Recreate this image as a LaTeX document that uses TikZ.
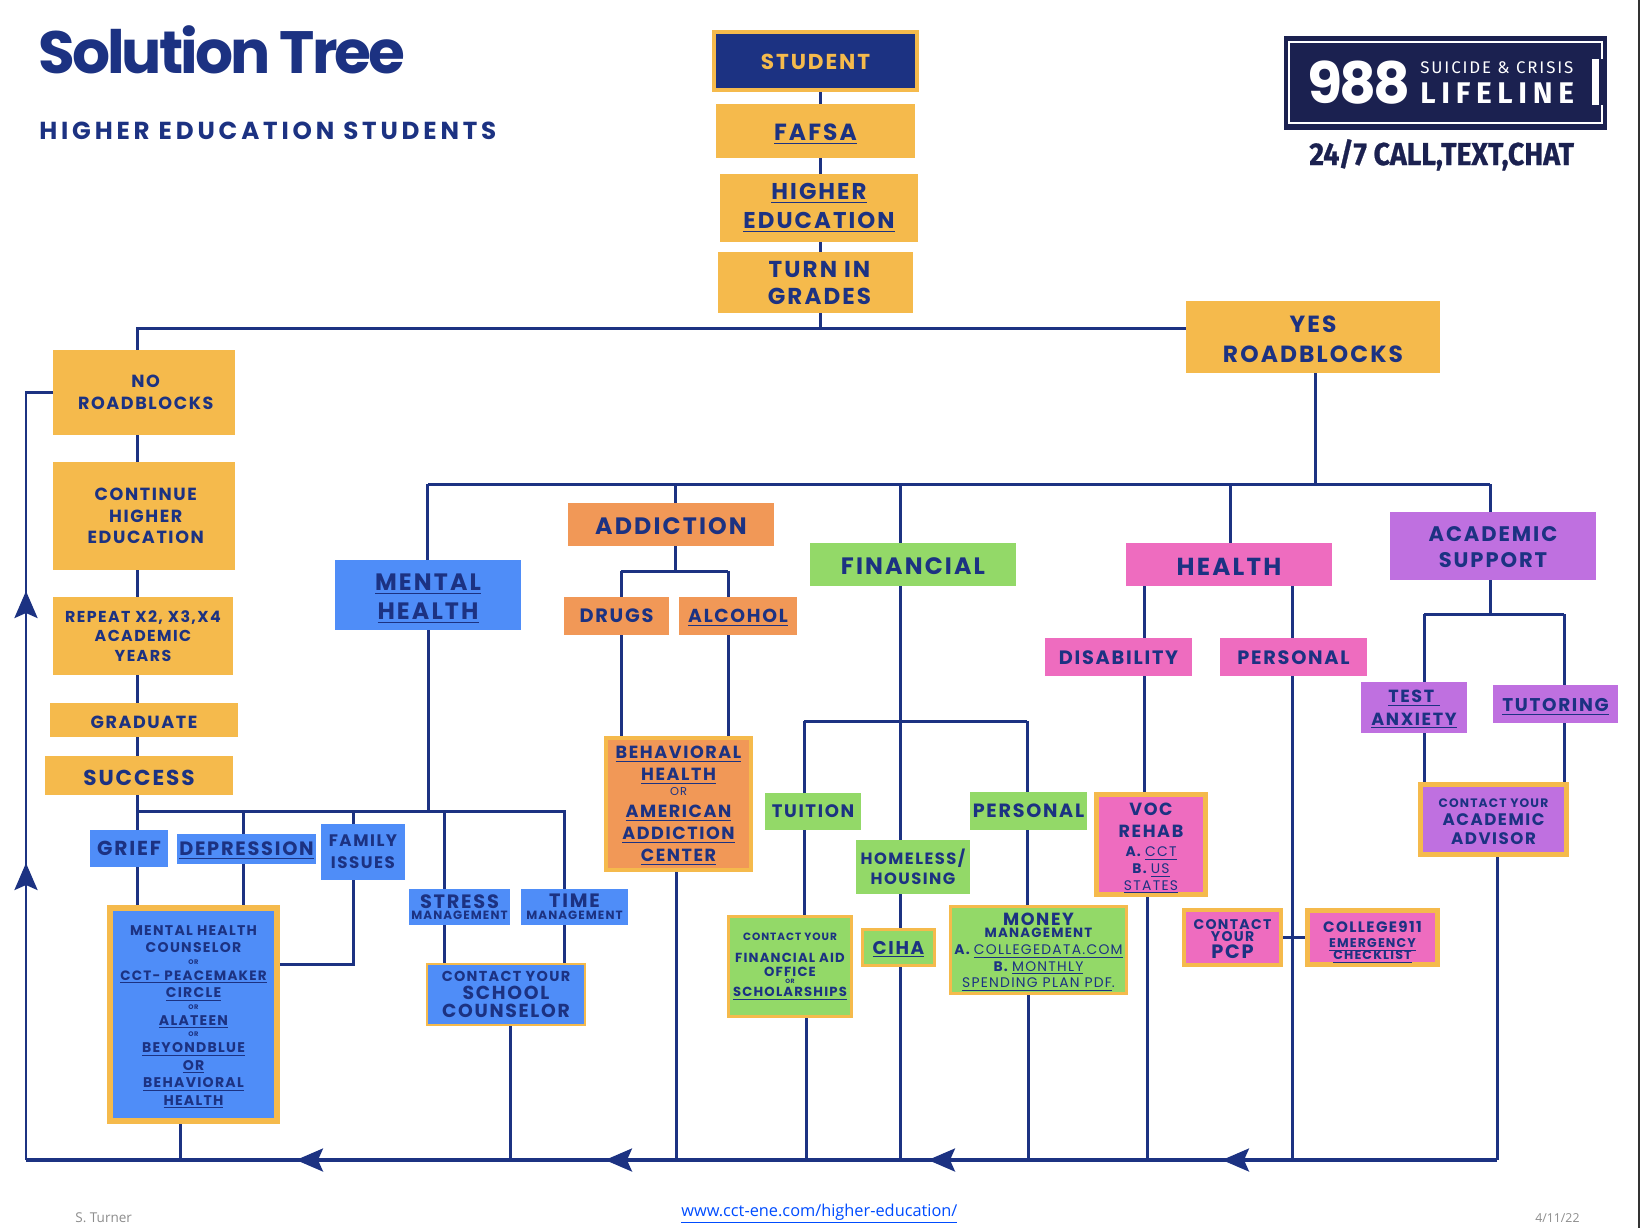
\documentclass[tikz,border=0pt]{standalone}
\usepackage{xcolor}
\usepackage{fontspec}
\setmainfont{Poppins}[LetterSpace=9]
\newfontfamily\titlefont{Poppins}[LetterSpace=-5]
\newfontfamily\widefont{Poppins}[LetterSpace=15.5]
\newfontfamily\logofont{Fira Sans}[LetterSpace=11]
\newfontfamily\logobold{Fira Sans}[LetterSpace=19]
\newfontfamily\tagfont{Fira Sans}[FakeStretch=0.9, BoldFeatures={FakeBold=0.8}]
\newfontfamily\footfont{Open Sans}
\usetikzlibrary{positioning,calc,arrows.meta}
\definecolor{navy}{HTML}{1C3282}
\definecolor{deepnavy}{HTML}{1B2150}
\definecolor{gold}{HTML}{F5BA4C}
\definecolor{bluefill}{HTML}{4F8DF8}
\definecolor{orangefill}{HTML}{F19857}
\definecolor{greenfill}{HTML}{93D968}
\definecolor{pinkfill}{HTML}{EE6CBF}
\definecolor{purplefill}{HTML}{BF70E0}
\newcommand{\fs}[2]{\fontsize{#1}{#2}\selectfont}
\newcommand{\ul}[1]{\underline{#1}}
\newcommand{\pad}[1]{\rule{0pt}{\dimexpr\fontcharht\font`H+#1pt\relax}}
\setlength{\lineskiplimit}{-20pt}
\tikzset{
  wh/.style 2 args  = {minimum width=#1*0.02cm, minimum height=#2*0.02cm},
  rim/.style        = {draw=gold, line width=#1*0.02cm},
  flat/.style       = {text depth=0pt},
  boxbase/.style    = {rectangle, inner sep=0pt, align=center, text=navy, font=\bfseries},
  goldbox/.style    = {boxbase, fill=gold},
  bluebox/.style    = {boxbase, fill=bluefill},
  orangebox/.style  = {boxbase, fill=orangefill},
  greenbox/.style   = {boxbase, fill=greenfill},
  pinkbox/.style    = {boxbase, fill=pinkfill},
  purplebox/.style  = {boxbase, fill=purplefill},
  link/.style       = {draw=navy, line width=0.06cm},
  trunk/.style      = {draw=navy, line width=0.085cm},
  flowtip/.style    = {-{Stealth[length=0.54cm, width=0.46cm, inset=0.1cm]}, draw=navy, line width=0.06cm},
  foot/.style       = {font=\footfont\fontsize{7}{8}\selectfont, text=black!45, anchor=base west, inner sep=0pt},
}
\begin{document}
\begin{tikzpicture}[x=0.02cm,y=-0.02cm]
  \useasboundingbox (0,0) rectangle (1640,1228);
  \fill[black!80] (1638,0) rectangle (1640,1228);

  % heading
  \node[anchor=base west, inner sep=0pt, text=navy, font=\titlefont\bfseries\fs{34}{40}] (title) at (38,73) {Solution Tree};
  \node[anchor=base west, inner sep=0pt, text=navy, font=\widefont\bfseries\fs{14}{16}] (subtitle) at (39,139) {HIGHER EDUCATION STUDENTS};

  % lifeline badge
  \fill[deepnavy] (1284,36) rectangle (1607,130);
  \draw[white, line width=0.04cm] (1602,59) -- (1602,42) -- (1289,42) -- (1289,123) -- (1602,123) -- (1602,105);
  \fill[white] (1592,59) rectangle (1599,105);
  \node[anchor=base west, inner sep=0pt, text=white, font=\titlefont\bfseries\fs{32.5}{36}] (nine) at (1307,103) {988};
  \node[anchor=base west, inner sep=0pt, text=white, font=\logofont\fs{9.6}{11}] (suicide) at (1420,73) {SUICIDE \& CRISIS};
  \node[anchor=base west, inner sep=0pt, text=white, font=\logobold\bfseries\fs{17}{19}] (lifeline) at (1420,103) {LIFELINE};
  \node[anchor=base west, inner sep=0pt, text=deepnavy, font=\tagfont\bfseries\fs{18}{20}] (tagline) at (1309,165) {24/7 CALL,TEXT,CHAT};

  % centre column
  \node[boxbase, fill=navy, rim=4, wh={203}{58}, text=gold, font=\bfseries\fs{12.3}{14}, flat] (student) at (815.5,61) {\pad{1.2}STUDENT};
  \node[goldbox, wh={199}{54}, font=\bfseries\fs{13.3}{16}, flat] (fafsa) at (815.5,131) {\pad{1.2}\ul{FAFSA}};
  \node[goldbox, wh={198}{68}, font=\bfseries\fs{13}{16.5}] (higher) at (819,208) {\ul{HIGHER}\\\ul{EDUCATION}};
  \node[goldbox, wh={195}{61}, font=\bfseries\fs{13.1}{15.5}, flat] (turnin) at (815.5,282.5) {\pad{0.6}\hspace*{4.5pt}TURN IN\\\hspace*{4.5pt}GRADES};
  \node[goldbox, wh={254}{72}, font=\bfseries\fs{13.3}{16.7}, flat] (yes) at (1313,337) {\pad{2.4}YES\\ROADBLOCKS};

  % left column
  \node[goldbox, wh={182}{85}, font=\bfseries\fs{10}{12.7}] (noroad) at (144,392.5) {\hspace*{2pt}NO\\\hspace*{2pt}ROADBLOCKS};
  \node[goldbox, wh={182}{108}, font=\bfseries\fs{10}{12.3}] (cont) at (144,516) {\hspace*{2pt}CONTINUE\\\hspace*{2pt}HIGHER\\\hspace*{2pt}EDUCATION};
  \node[goldbox, wh={180}{78}, font=\bfseries\fs{9}{11}] (repeatx) at (143,636) {REPEAT X2, X3,X4\\ACADEMIC\\YEARS};
  \node[goldbox, wh={188}{34}, font=\bfseries\fs{10}{12}, flat] (graduate) at (144,720) {\pad{2.4}GRADUATE};
  \node[goldbox, wh={188}{39}, font=\bfseries\fs{12.3}{14}, flat] (success) at (139,775.5) {\pad{2.4}SUCCESS};

  % mental health
  \node[bluebox, wh={186}{70}, font=\bfseries\fs{13.5}{16.5}, flat] (mental) at (428,595) {\pad{2.4}\ul{MENTAL}\\\ul{HEALTH}};
  \node[bluebox, wh={78}{37}, font=\bfseries\fs{11.5}{12}] (grief) at (129,848.5) {GRIEF};
  \node[bluebox, wh={139}{30}, font=\bfseries\fs{11}{12}, flat] (depression) at (246.5,849) {\ul{DEPRESSION}};
  \node[bluebox, wh={84}{56}, font=\bfseries\fs{9.5}{12.5}] (family) at (363,852) {FAMILY\\ISSUES};
  \node[bluebox, wh={101}{36}, font=\bfseries\fs{11}{6.6}] (stress) at (459.5,907) {STRESS\\\fs{6.8}{7}MANAGEMENT};
  \node[bluebox, wh={107}{36}, font=\bfseries\fs{11}{6.6}] (timex) at (574.5,907) {TIME\\\fs{6.8}{7}MANAGEMENT};
  \node[bluebox, rim=6, wh={167}{213}, font=\bfseries\fs{8}{10}] (mhc) at (193.5,1014.5) {\pad{3}MENTAL HEALTH\\COUNSELOR\\[-3.6pt]\fs{3.8}{6}OR\\[-0.8pt]\fs{7.7}{10}\ul{CCT- PEACEMAKER}\\\ul{CIRCLE}\\[-3.6pt]\fs{3.8}{6}OR\\[-0.8pt]\ul{ALATEEN}\\[-3.6pt]\fs{3.8}{6}OR\\[-0.8pt]\ul{BEYONDBLUE}\\\ul{OR}\\\ul{BEHAVIORAL}\\\ul{HEALTH}};
  \node[bluebox, rim=2, wh={158}{61}, font=\bfseries\fs{10.7}{10.2}] (school) at (506,994.5) {\fs{8.2}{10}CONTACT YOUR\\SCHOOL\\COUNSELOR};

  % addiction
  \node[orangebox, wh={206}{43}, font=\bfseries\fs{13.5}{17}, flat] (addiction) at (671,524.5) {\pad{2.4}ADDICTION};
  \node[orangebox, wh={105}{38}, font=\bfseries\fs{11}{12}, flat] (drugs) at (616.5,616) {DRUGS};
  \node[orangebox, wh={118}{38}, font=\bfseries\fs{10.7}{12}, flat] (alcohol) at (738,616) {\ul{ALCOHOL}};
  \node[orangebox, rim=4, wh={145}{132}, font=\bfseries\fs{10}{12.5}] (behavioral) at (678.5,804) {\pad{2}\ul{BEHAVIORAL}\\\ul{HEALTH}\\[-4pt]\fs{6.5}{12}\mdseries OR\\\ul{AMERICAN}\\\ul{ADDICTION}\\\ul{CENTER}};

  % financial
  \node[greenbox, wh={206}{43}, font=\bfseries\fs{13.5}{17}, flat] (financial) at (913,564.5) {\pad{2.4}FINANCIAL};
  \node[greenbox, wh={96}{37}, font=\bfseries\fs{10.3}{12}] (tuition) at (813,811.5) {TUITION};
  \node[greenbox, wh={117}{38}, font=\bfseries\fs{10.9}{12}] (personalf) at (1028.5,811) {PERSONAL};
  \node[greenbox, wh={114}{54}, font=\bfseries\fs{9.3}{11.5}] (homeless) at (913,867) {HOMELESS/\\HOUSING};
  \node[greenbox, rim=3, wh={123}{100}, font=\bfseries\fs{7.5}{8.5}] (finaid) at (790,966.5) {\fs{6}{8}CONTACT YOUR\\[4pt]FINANCIAL AID\\OFFICE\\[-4.6pt]\fs{3.5}{5}OR\\[-1.1pt]\ul{SCHOLARSHIPS}};
  \node[greenbox, rim=3, wh={72}{36}, font=\bfseries\fs{10.5}{12}, flat] (ciha) at (898.5,947.5) {\ul{CIHA}};
  \node[greenbox, rim=3, wh={176}{87}, font=\bfseries\fs{7.9}{9.5}] (money) at (1038.5,950) {\fs{10}{9}\pad{2.4}MONEY\\[-2.5pt]\fs{7.6}{9}MANAGEMENT\\A. {\mdseries\ul{COLLEGEDATA.COM}}\\B. {\mdseries\ul{MONTHLY}}\\{\mdseries\ul{SPENDING PLAN PDF}.}};

  % health
  \node[pinkbox, wh={206}{43}, font=\bfseries\fs{14}{17}, flat] (health) at (1229,564.5) {\pad{2.4}HEALTH};
  \node[pinkbox, wh={147}{38}, font=\bfseries\fs{11}{12}, flat] (disability) at (1118.5,657) {\pad{1.2}DISABILITY};
  \node[pinkbox, wh={147}{38}, font=\bfseries\fs{11}{12}, flat] (personalh) at (1293.5,657) {\pad{1.2}PERSONAL};
  \node[pinkbox, rim=5, wh={109}{100}, font=\bfseries\fs{7.9}{9.5}] (voc) at (1151,844.5) {\fs{10}{12}\pad{4.8}VOC\\[3pt]\fs{10}{12}REHAB\\[1.3pt]A. {\mdseries\ul{CCT}}\\B. {\mdseries\ul{US}}\\{\mdseries\ul{STATES}}};
  \node[pinkbox, rim=4, wh={97}{55}, font=\bfseries\fs{8}{7}, flat] (pcp) at (1232.5,937.5) {\pad{1.8}CONTACT\\YOUR\\[2.8pt]\fs{11}{10}PCP};
  \node[pinkbox, rim=5, wh={130}{54}, font=\bfseries\fs{7.2}{6.8}] (college) at (1372.5,937.5) {\fs{8.6}{11}\pad{6}COLLEGE911\\[1.7pt]\ul{EMERGENCY}\\\ul{CHECKLIST}};

  % academic support
  \node[purplebox, wh={206}{68}, font=\bfseries\fs{12}{15}, flat] (academic) at (1493,546) {\pad{1.2}ACADEMIC\\SUPPORT};
  \node[purplebox, wh={106}{51}, font=\bfseries\fs{10}{13}, flat] (anxiety) at (1414,707.5) {\ul{TEST }\\\ul{ANXIETY}};
  \node[purplebox, wh={125}{38}, font=\bfseries\fs{10.5}{12}, flat] (tutoring) at (1555.5,704) {\pad{1.2}\ul{TUTORING}};
  \node[purplebox, rim=5, wh={146}{70}, font=\bfseries\fs{9.5}{10.7}] (advisor) at (1493.5,819.5) {\fs{7}{9}\pad{2.4}CONTACT YOUR\\[-0.6pt]ACADEMIC\\ADVISOR};

  % junctions
  \coordinate (spine) at (820,328);
  \coordinate (leftrun) at (137,328);
  \coordinate (branch) at (137,811);
  \coordinate (bar) at (1315,484);
  \coordinate (trunkr) at (1497,1160);
  \coordinate (trunkl) at (26,1160);

  % top of the tree
  \foreach \a/\b in {student/fafsa, fafsa/higher, higher/turnin}
    \draw[link] (\a.south -| spine) -- (\b.north -| spine);
  \draw[link] (turnin.south -| spine) -- (spine);
  \draw[link] (yes.west |- spine) -- (leftrun) -- (noroad.north -| leftrun);
  \foreach \a/\b in {noroad/cont, cont/repeatx, repeatx/graduate, graduate/success, success/grief}
    \draw[link] (\a.south -| leftrun) -- (\b.north -| leftrun);
  \draw[link] (grief.south -| leftrun) -- (mhc.north -| leftrun);

  % mental health branch
  \coordinate (famturn) at (353,964);
  \coordinate (menrun) at (428,811);
  \coordinate (timerun) at (564,811);
  \coordinate (bar left) at (428,484);
  \draw[link] (branch) -- (timerun) -- (timex.north -| timerun);
  \draw[link] (mental.south -| menrun) -- (menrun);
  \draw[link] (timex.south -| timerun) -- (school.north -| timerun);
  \foreach \x in {243} {
    \draw[link] (\x,811) -- (depression.north -| {(\x,0)});
    \draw[link] (depression.south -| {(\x,0)}) -- (mhc.north -| {(\x,0)});
  }
  \draw[link] (353,811) -- (family.north -| famturn);
  \draw[link] (family.south -| famturn) -- (famturn) -- (mhc.east |- famturn);
  \draw[link] (444,811) -- (stress.north -| {(444,0)});
  \draw[link] (stress.south -| {(444,0)}) -- (school.north -| {(444,0)});

  % upper bar and its drops
  \draw[link] (yes.south -| bar) -- (bar);
  \draw[link] (bar left) -- (1490,484);
  \foreach \n/\x in {mental/427, addiction/675, financial/900, health/1230, academic/1490}
    \draw[link] (\x,484) -- (\n.north -| {(\x,0)});

  % addiction branch
  \draw[link] (addiction.south -| {(675,0)}) -- (675,571);
  \draw[link] (621,571) -- (728,571);
  \draw[link] (621,571) -- (drugs.north -| {(621,0)});
  \draw[link] (728,571) -- (alcohol.north -| {(728,0)});
  \draw[link] (drugs.south -| {(621,0)}) -- (behavioral.north -| {(621,0)});
  \draw[link] (alcohol.south -| {(728,0)}) -- (behavioral.north -| {(728,0)});

  % financial branch
  \draw[link] (financial.south -| {(900,0)}) -- (homeless.north -| {(900,0)});
  \draw[link] (homeless.south -| {(900,0)}) -- (ciha.north -| {(900,0)});
  \draw[link] (804,721) -- (1027,721);
  \draw[link] (804,721) -- (tuition.north -| {(804,0)});
  \draw[link] (tuition.south -| {(804,0)}) -- (finaid.north -| {(804,0)});
  \draw[link] (1027,721) -- (personalf.north -| {(1027,0)});
  \draw[link] (personalf.south -| {(1027,0)}) -- (money.north -| {(1027,0)});

  % health branch
  \draw[link] (health.south -| {(1144,0)}) -- (disability.north -| {(1144,0)});
  \draw[link] (disability.south -| {(1144,0)}) -- (voc.north -| {(1144,0)});
  \draw[link] (health.south -| {(1292,0)}) -- (personalh.north -| {(1292,0)});
  \draw[link] (pcp.east) -- (college.west);

  % academic branch
  \draw[link] (academic.south -| {(1490,0)}) -- (1490,614);
  \draw[link] (1424,614) -- (1564,614);
  \draw[link] (1424,614) -- (anxiety.north -| {(1424,0)});
  \draw[link] (1564,614) -- (tutoring.north -| {(1564,0)});
  \draw[link] (anxiety.south -| {(1424,0)}) -- (advisor.north -| {(1424,0)});
  \draw[link] (tutoring.south -| {(1564,0)}) -- (advisor.north -| {(1564,0)});

  % everything returns along the bottom
  \foreach \n/\x in {mhc/180, school/510, behavioral/676, finaid/806, ciha/900, money/1028, voc/1147, personalh/1292}
    \draw[link] (\n.south -| {(\x,0)}) -- (\x,1160);
  \draw[link] (advisor.south -| trunkr) -- (trunkr);
  \draw[trunk] (trunkr) -- (trunkl);
  \draw[link] (trunkl) -- (trunkl |- noroad.west) -- (noroad.west);

  % arrowheads on the return line
  \foreach \x in {323,632,955,1249}
    \draw[flowtip] (\x,1160) -- ++(-27,0);
  \foreach \y in {618,890}
    \draw[flowtip] (26,\y) -- ++(0,-27);

  % footer
  \node[foot, font=\footfont\fs{7.7}{8}] (author) at (75,1222) {S. Turner};
  \node[anchor=base west, inner sep=0pt, text=blue!70!cyan, font=\footfont\fs{9.3}{12}] (weblink) at (681,1216) {\ul{www.cct-ene.com/higher-education/}};
  \node[foot] (dated) at (1535,1222) {4/11/22};
\end{tikzpicture}
\end{document}
